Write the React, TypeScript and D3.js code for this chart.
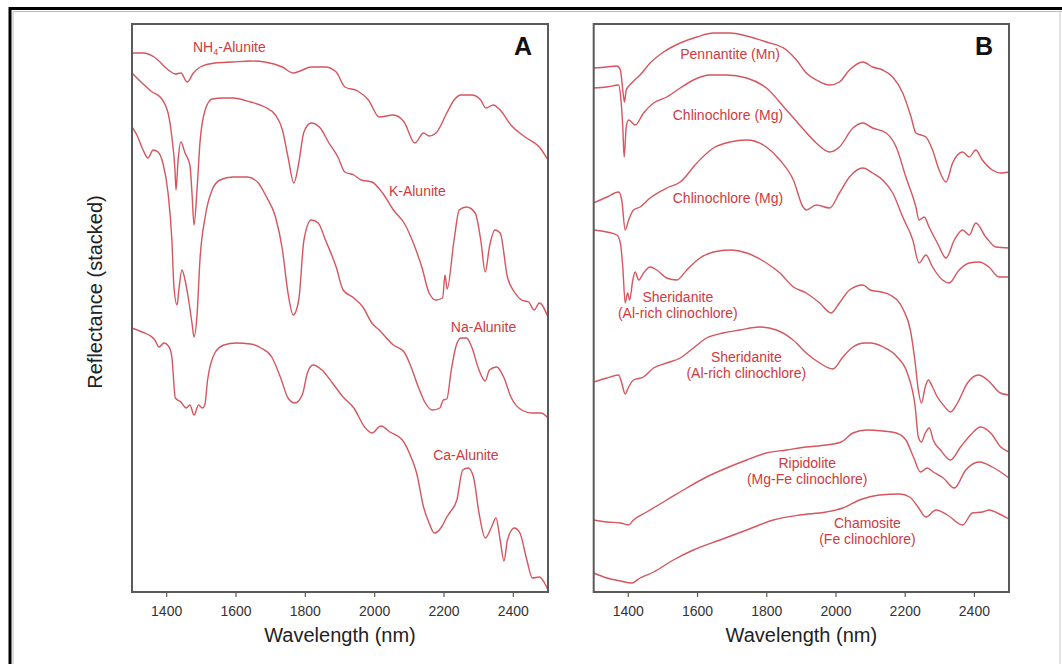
import React from 'react';
import * as d3 from 'd3';

// spectra: [wavelength nm, stacked reflectance (arbitrary units)]
const nh4Alunite = [
  [1300, 539], [1333, 539], [1364, 535], [1405, 522], [1425, 518], [1441, 519], [1459, 510],
  [1477, 519], [1497, 525], [1539, 529], [1590, 530], [1642, 531], [1683, 530], [1734, 525],
  [1765, 519], [1785, 521], [1817, 525], [1858, 525], [1889, 520], [1914, 505], [1951, 501],
  [1982, 492], [2013, 475], [2054, 477], [2085, 470], [2116, 449], [2141, 459], [2157, 456],
  [2177, 459], [2208, 479], [2229, 492], [2249, 497], [2280, 497], [2306, 492], [2321, 484],
  [2342, 487], [2362, 482], [2393, 467], [2434, 455], [2475, 445], [2500, 432],
];
const kAlunite = [
  [1300, 519], [1329, 509], [1358, 500], [1381, 495], [1404, 479], [1415, 455], [1424, 422],
  [1427, 402], [1433, 432], [1441, 450], [1453, 439], [1467, 427], [1473, 399], [1479, 367],
  [1488, 405], [1496, 449], [1511, 482], [1531, 493], [1563, 494], [1590, 494], [1642, 490],
  [1683, 485], [1714, 477], [1734, 462], [1750, 435], [1767, 409], [1781, 429], [1796, 460],
  [1817, 469], [1843, 464], [1868, 449], [1894, 435], [1914, 420], [1940, 417], [1961, 412],
  [1992, 410], [2023, 399], [2054, 382], [2085, 369], [2116, 345], [2136, 325], [2157, 299],
  [2177, 292], [2196, 294], [2203, 317], [2209, 303], [2229, 352], [2244, 382], [2265, 385],
  [2290, 379], [2306, 352], [2319, 320], [2331, 345], [2347, 362], [2362, 359], [2383, 315],
  [2403, 300], [2424, 292], [2444, 290], [2460, 282], [2475, 289], [2500, 275],
];
const naAlunite = [
  [1300, 465], [1314, 457], [1332, 442], [1346, 434], [1361, 442], [1375, 440], [1389, 429],
  [1404, 399], [1415, 352], [1421, 305], [1430, 287], [1436, 305], [1444, 322], [1453, 312],
  [1462, 295], [1473, 269], [1479, 255], [1488, 279], [1496, 332], [1511, 375], [1531, 402],
  [1554, 412], [1591, 415], [1632, 415], [1662, 410], [1688, 395], [1714, 375], [1734, 342],
  [1750, 299], [1765, 277], [1781, 292], [1796, 352], [1817, 372], [1837, 369], [1858, 352],
  [1889, 325], [1909, 302], [1940, 294], [1966, 285], [1992, 269], [2013, 262], [2054, 247],
  [2085, 240], [2105, 225], [2126, 205], [2146, 189], [2167, 182], [2188, 184], [2198, 192],
  [2208, 193], [2221, 222], [2234, 245], [2249, 254], [2265, 254], [2280, 245], [2301, 222],
  [2319, 211], [2331, 222], [2352, 225], [2372, 215], [2393, 195], [2424, 182], [2455, 179],
  [2480, 179], [2500, 174],
];
const caAlunite = [
  [1300, 264], [1329, 260], [1349, 257], [1366, 252], [1378, 245], [1392, 249], [1407, 245],
  [1415, 235], [1425, 194], [1441, 190], [1456, 184], [1467, 187], [1479, 177], [1492, 187],
  [1503, 184], [1510, 187], [1518, 212], [1539, 239], [1565, 247], [1600, 249], [1642, 248],
  [1672, 244], [1703, 235], [1729, 214], [1750, 194], [1770, 189], [1791, 197], [1806, 219],
  [1822, 227], [1848, 222], [1878, 209], [1909, 195], [1940, 184], [1971, 165], [1992, 159],
  [2018, 166], [2044, 160], [2080, 152], [2100, 139], [2121, 119], [2141, 85], [2157, 69],
  [2172, 59], [2193, 65], [2208, 75], [2218, 80], [2237, 92], [2254, 122], [2270, 124],
  [2285, 115], [2301, 79], [2319, 54], [2337, 65], [2350, 74], [2362, 52], [2373, 31],
  [2383, 52], [2403, 64], [2419, 59], [2439, 32], [2455, 14], [2475, 15], [2490, 9], [2500, 2],
];

const pennantite = [
  [1300, 524], [1338, 525], [1367, 526], [1377, 522], [1385, 499], [1389, 490], [1394, 502],
  [1410, 509], [1434, 517], [1463, 529], [1502, 540], [1550, 549], [1598, 555], [1646, 559],
  [1694, 559], [1742, 556], [1799, 550], [1857, 542], [1886, 532], [1914, 519], [1944, 512],
  [1982, 507], [2010, 510], [2039, 522], [2078, 530], [2106, 525], [2135, 522], [2164, 515],
  [2193, 499], [2217, 475], [2231, 459], [2260, 455], [2279, 442], [2298, 422], [2318, 410],
  [2337, 429], [2366, 440], [2385, 435], [2404, 442], [2423, 432], [2452, 422], [2476, 419],
  [2500, 420],
];
const clinochlore1 = [
  [1300, 504], [1338, 505], [1372, 507], [1378, 495], [1384, 465], [1388, 435], [1394, 465],
  [1401, 472], [1420, 467], [1444, 479], [1473, 489], [1511, 495], [1550, 504], [1588, 512],
  [1636, 517], [1684, 517], [1742, 514], [1799, 504], [1857, 482], [1895, 467], [1943, 449],
  [1982, 440], [2010, 445], [2049, 464], [2078, 469], [2106, 464], [2145, 459], [2174, 445],
  [2202, 415], [2231, 385], [2240, 372], [2255, 375], [2269, 365], [2293, 349], [2318, 334],
  [2342, 352], [2366, 362], [2385, 357], [2404, 369], [2433, 355], [2462, 345], [2500, 344],
];
const clinochlore2 = [
  [1300, 389], [1338, 395], [1372, 400], [1381, 392], [1391, 362], [1401, 372], [1415, 382],
  [1434, 385], [1463, 394], [1511, 404], [1550, 410], [1598, 429], [1646, 444], [1694, 450],
  [1742, 452], [1799, 445], [1838, 432], [1877, 412], [1905, 385], [1914, 382], [1943, 387],
  [1982, 384], [2010, 399], [2039, 415], [2078, 424], [2106, 419], [2135, 412], [2164, 399],
  [2193, 375], [2222, 352], [2240, 329], [2260, 337], [2279, 325], [2308, 312], [2327, 309],
  [2356, 322], [2385, 329], [2414, 330], [2442, 325], [2471, 315], [2500, 315],
];
const sheridanite1 = [
  [1300, 362], [1338, 360], [1367, 357], [1377, 349], [1384, 325], [1391, 289], [1398, 299],
  [1404, 292], [1413, 312], [1420, 320], [1430, 312], [1444, 319], [1463, 325], [1482, 322],
  [1511, 314], [1540, 312], [1569, 322], [1607, 334], [1646, 340], [1694, 342], [1742, 339],
  [1799, 329], [1838, 319], [1877, 305], [1914, 299], [1953, 289], [1986, 279], [2010, 289],
  [2039, 302], [2078, 307], [2099, 302], [2130, 300], [2157, 297], [2195, 282], [2215, 262],
  [2229, 229], [2238, 202], [2247, 189], [2258, 205], [2267, 212], [2279, 205], [2293, 195],
  [2310, 187], [2331, 180], [2351, 189], [2380, 209], [2412, 217], [2438, 212], [2475, 199],
  [2500, 197],
];
const sheridanite2 = [
  [1300, 210], [1338, 214], [1372, 217], [1381, 209], [1391, 198], [1401, 205], [1415, 212],
  [1444, 215], [1473, 224], [1511, 229], [1550, 234], [1588, 244], [1626, 254], [1674, 259],
  [1722, 262], [1780, 265], [1828, 262], [1876, 252], [1914, 239], [1953, 229], [1991, 223],
  [2020, 235], [2049, 245], [2083, 249], [2099, 249], [2137, 245], [2177, 235], [2206, 219],
  [2229, 185], [2238, 155], [2247, 150], [2258, 159], [2270, 164], [2281, 152], [2302, 142],
  [2331, 132], [2360, 145], [2389, 157], [2418, 165], [2447, 159], [2476, 145], [2500, 140],
];
const ripidolite = [
  [1300, 72], [1338, 70], [1377, 69], [1401, 67], [1415, 72], [1453, 80], [1511, 92],
  [1569, 104], [1626, 115], [1684, 124], [1742, 132], [1799, 139], [1857, 142], [1914, 145],
  [1972, 147], [2015, 150], [2049, 159], [2088, 162], [2135, 161], [2174, 159], [2202, 152],
  [2224, 135], [2244, 120], [2264, 124], [2281, 120], [2310, 114], [2342, 104], [2375, 122],
  [2414, 130], [2452, 125], [2500, 114],
];
const chamosite = [
  [1300, 19], [1338, 14], [1377, 11], [1410, 9], [1434, 14], [1473, 20], [1530, 32],
  [1588, 42], [1665, 52], [1742, 62], [1819, 72], [1895, 77], [1972, 80], [2020, 84],
  [2068, 92], [2126, 97], [2184, 98], [2213, 95], [2237, 85], [2260, 75], [2289, 82],
  [2322, 77], [2366, 67], [2394, 79], [2423, 80], [2442, 82], [2466, 79], [2500, 73],
];

const wavelengthTicks = [1400, 1600, 1800, 2000, 2200, 2400];

// label anchors in data units: [wavelength, value]
const labelsA = [
  { lines: ['NH4-Alunite'], at: [1476, 540], anchor: 'start' },
  { lines: ['K-Alunite'], at: [2123, 396], anchor: 'middle' },
  { lines: ['Na-Alunite'], at: [2314, 260], anchor: 'middle' },
  { lines: ['Ca-Alunite'], at: [2263, 132], anchor: 'middle' },
];
const labelsB = [
  { lines: ['Pennantite (Mn)'], at: [1694, 533], anchor: 'middle' },
  { lines: ['Chlinochlore (Mg)'], at: [1688, 472], anchor: 'middle' },
  { lines: ['Chlinochlore (Mg)'], at: [1688, 389], anchor: 'middle' },
  { lines: ['Sheridanite', '(Al-rich clinochlore)'], at: [1543, 290], anchor: 'middle' },
  { lines: ['Sheridanite', '(Al-rich clinochlore)'], at: [1741, 230], anchor: 'middle' },
  { lines: ['Ripidolite', '(Mg-Fe clinochlore)'], at: [1917, 124], anchor: 'middle' },
  { lines: ['Chamosite', '(Fe clinochlore)'], at: [2091, 64], anchor: 'middle' },
];

const seriesA = [nh4Alunite, kAlunite, naAlunite, caAlunite];
const seriesB = [pennantite, clinochlore1, clinochlore2, sheridanite1, sheridanite2, ripidolite, chamosite];

const top = 24;
const bottom = 592;
const lineColor = '#d4565e';
const textColor = '#cf3a42';
const font = 'Liberation Sans, Arial, sans-serif';

const Panel = ({ id, left, right, series, labels, letter }) => {
  const x = d3.scaleLinear().domain([1300, 2500]).range([left, right]);
  const y = d3.scaleLinear().domain([0, 568]).range([bottom, top]);
  const line = d3.line().x(d => x(d[0])).y(d => y(d[1])).curve(d3.curveMonotoneX);

  return (
    <g>
      <defs>
        <clipPath id={`clip-${id}`}>
          <rect x={left} y={top} width={right - left} height={bottom - top} />
        </clipPath>
      </defs>
      <g clipPath={`url(#clip-${id})`}>
        {series.map((s, i) => (
          <path key={i} d={line(s)} fill="none" stroke={lineColor} strokeWidth={1.4} />
        ))}
      </g>
      {labels.map((l, i) => (
        <text key={i} x={x(l.at[0])} y={y(l.at[1])} textAnchor={l.anchor}
          fontFamily={font} fontSize={14} fill={textColor}>
          {l.lines.map((t, j) => {
            if (t === 'NH4-Alunite') {
              return (
                <tspan key={j}>NH<tspan fontSize={9} dy={3}>4</tspan><tspan dy={-3}>-Alunite</tspan></tspan>
              );
            }
            return <tspan key={j} x={x(l.at[0])} dy={j === 0 ? 0 : 16}>{t}</tspan>;
          })}
        </text>
      ))}
      <rect x={left} y={top} width={right - left} height={bottom - top}
        fill="none" stroke="#5a5a5a" strokeWidth={2} />
      {wavelengthTicks.map(t => (
        <g key={t} transform={`translate(${x(t)},${bottom})`}>
          <line y1={0} y2={5} stroke="#5a5a5a" strokeWidth={1.2} />
          <text y={24} textAnchor="middle" fontFamily={font} fontSize={14} fill="#333">{t}</text>
        </g>
      ))}
      <text x={(left + right) / 2} y={642} textAnchor="middle" fontFamily={font}
        fontSize={20} fill="#222">Wavelength (nm)</text>
      <text x={right - 25} y={55} textAnchor="middle" fontFamily={font} fontSize={25}
        fontWeight="bold" fill="#111">{letter}</text>
    </g>
  );
};

export default function App() {
  return (
    <svg width={1062} height={664} style={{ position: 'absolute', left: 0, top: 0, background: '#fff' }}>
      <rect width={1062} height={664} fill="#fff" />
      <path d="M1062,8.5 H10 V664" fill="none" stroke="#000" strokeWidth={3} />
      <path d="M1062,11.5 H13 V664" fill="none" stroke="#bbb" strokeWidth={1} />
      <line x1={1060} y1={12} x2={1060} y2={664} stroke="#ccc" strokeWidth={1} />
      <text transform="translate(102,292) rotate(-90)" textAnchor="middle" fontFamily={font}
        fontSize={20} fill="#222">Reflectance (stacked)</text>
      <Panel id="a" left={132} right={548} series={seriesA} labels={labelsA} letter="A" />
      <Panel id="b" left={593.7} right={1009} series={seriesB} labels={labelsB} letter="B" />
    </svg>
  );
}
